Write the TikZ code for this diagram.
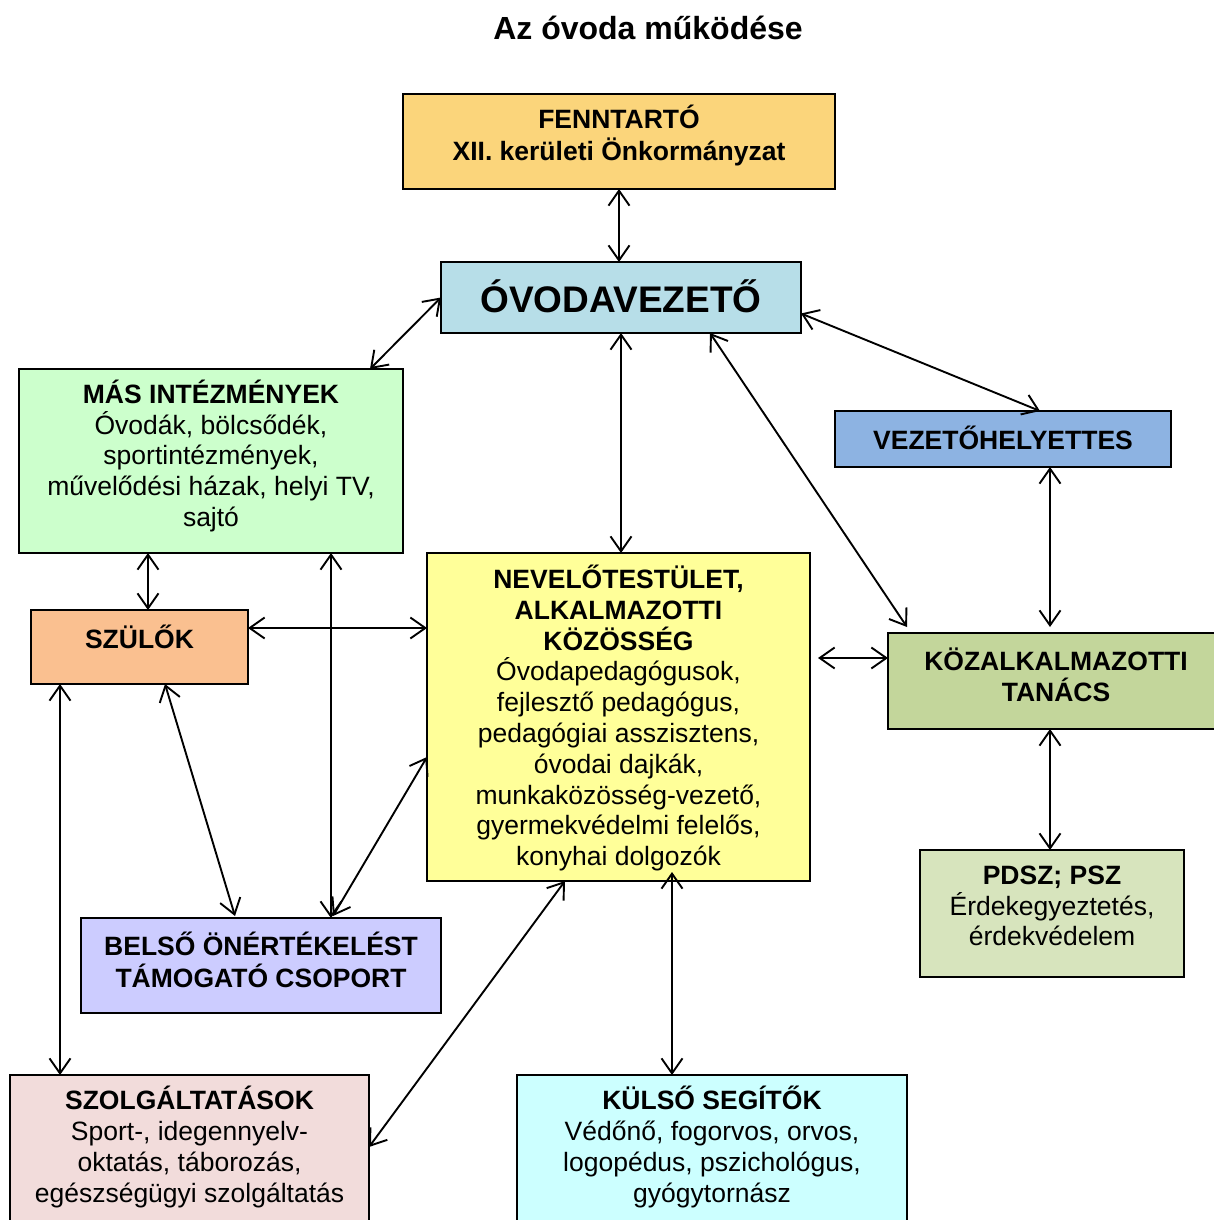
\documentclass[tikz,border=0pt]{standalone}
\usepackage{fontspec}
\setmainfont{Liberation Sans}
\usetikzlibrary{arrows.meta}
\definecolor{cFenn}{HTML}{FBD57B}
\definecolor{cOvez}{HTML}{B7DEE8}
\definecolor{cMas}{HTML}{CCFFCC}
\definecolor{cVez}{HTML}{8DB3E2}
\definecolor{cSzu}{HTML}{FAC090}
\definecolor{cNev}{HTML}{FFFF99}
\definecolor{cKoz}{HTML}{C3D69B}
\definecolor{cPdsz}{HTML}{D7E4BD}
\definecolor{cBel}{HTML}{CCCCFF}
\definecolor{cSzol}{HTML}{F2DCDB}
\definecolor{cKul}{HTML}{CCFFFF}
\tikzset{
  box/.style={draw=black, line width=1.8pt, inner sep=0pt, outer sep=0pt, rectangle},
  txt/.style={align=center, inner sep=0pt, font=\fontsize{26.5}{30.8}\selectfont},
  link/.style={line width=1.9pt, {Straight Barb[length=15pt,width=21pt]}-{Straight Barb[length=15pt,width=21pt]}},
}
\begin{document}
\begin{tikzpicture}[x=1pt,y=-1pt]
\useasboundingbox (0,0) rectangle (1214,1220);
\clip (0,0) rectangle (1214,1220);
\fill[white] (0,0) rectangle (1214,1220);

\node[txt, font=\fontsize{32}{36}\selectfont\bfseries] (title) at (648,28) {Az óvoda működése};

% boxes
\node[box, fill=cFenn, minimum width=432pt, minimum height=95pt] (fenn) at (619,141.5) {};
\node[box, fill=cOvez, minimum width=360pt, minimum height=71pt] (ovez) at (621,297.5) {};
\node[box, fill=cMas, minimum width=384pt, minimum height=184pt] (mas) at (211,461) {};
\node[box, fill=cVez, minimum width=336pt, minimum height=56pt] (vez) at (1003,439) {};
\node[box, fill=cSzu, minimum width=217pt, minimum height=74pt] (szu) at (139.5,647) {};
\node[box, fill=cNev, minimum width=383pt, minimum height=328pt] (nev) at (618.5,717) {};
\node[box, fill=cKoz, minimum width=336pt, minimum height=96pt] (koz) at (1056,681) {};
\node[box, fill=cPdsz, minimum width=264pt, minimum height=127pt] (pdsz) at (1052,913.5) {};
\node[box, fill=cBel, minimum width=360pt, minimum height=95pt] (bel) at (261,965.5) {};
\node[box, fill=cSzol, minimum width=359pt, minimum height=153pt] (szol) at (189.5,1151.5) {};
\node[box, fill=cKul, minimum width=390pt, minimum height=153pt] (kul) at (712,1151.5) {};

% texts
\node[txt, font=\fontsize{26.5}{32}\selectfont\bfseries] (fennT) at (619,136) {FENNTARTÓ\\XII. kerületi Önkormányzat};
\node[txt, font=\fontsize{37}{40}\selectfont\bfseries] (ovezT) at (621,296) {ÓVODAVEZETŐ};
\node[txt] (masT) at (211,456) {\textbf{MÁS INTÉZMÉNYEK}\\Óvodák, bölcsődék,\\sportintézmények,\\művelődési házak, helyi TV,\\sajtó};
\node[txt, font=\fontsize{26.5}{30.8}\selectfont\bfseries] (vezT) at (1003,438) {VEZETŐHELYETTES};
\node[txt, font=\fontsize{26.5}{30.8}\selectfont\bfseries] (szuT) at (139.5,637) {SZÜLŐK};
\node[txt] (nevT) at (618.5,718) {\textbf{NEVELŐTESTÜLET,}\\\textbf{ALKALMAZOTTI}\\\textbf{KÖZÖSSÉG}\\Óvodapedagógusok,\\fejlesztő pedagógus,\\pedagógiai asszisztens,\\óvodai dajkák,\\munkaközösség-vezető,\\gyermekvédelmi felelős,\\konyhai dolgozók};
\node[txt, font=\fontsize{26.5}{30.8}\selectfont\bfseries] (kozT) at (1056,675) {KÖZALKALMAZOTTI\\TANÁCS};
\node[txt] (pdszT) at (1052,906) {\textbf{PDSZ; PSZ}\\Érdekegyeztetés,\\érdekvédelem};
\node[txt, font=\fontsize{26.5}{31.5}\selectfont\bfseries] (belT) at (261,960) {BELSŐ ÖNÉRTÉKELÉST\\TÁMOGATÓ CSOPORT};
\node[txt] (szolT) at (189.5,1147) {\textbf{SZOLGÁLTATÁSOK}\\Sport-, idegennyelv-\\oktatás, táborozás,\\egészségügyi szolgáltatás};
\node[txt] (kulT) at (712,1147) {\textbf{KÜLSŐ SEGÍTŐK}\\Védőnő, fogorvos, orvos,\\logopédus, pszichológus,\\gyógytornász};

% connectors
\draw[link] (fenn.south) -- (fenn.south |- ovez.north);
\draw[link] (ovez.west) -- ([xshift=-33pt]mas.north east);
\draw[link] (ovez.south) -- (ovez.south |- nev.north);
\draw[link] ([yshift=-16pt]ovez.east) -- ([xshift=37pt]vez.north);
\draw[link] ([xshift=89pt]ovez.south) -- ([xshift=19pt,yshift=6pt]koz.north west);
\draw[link] ([xshift=47pt]vez.south) -- ([xshift=-6pt,yshift=6pt]koz.north);
\draw[link] ([xshift=-63pt]mas.south) -- ([xshift=8.5pt]szu.north);
\draw[link] ([xshift=120pt]mas.south) -- ([xshift=70pt]bel.north);
\draw[link] ([yshift=19pt]szu.east) -- ([yshift=89pt]nev.west);
\draw[link] ([xshift=8pt,yshift=59pt]nev.east) -- ([yshift=23pt]koz.west);
\draw[link] ([xshift=-79.5pt]szu.south) -- ([xshift=-129.5pt]szol.north);
\draw[link] ([xshift=25.5pt]szu.south) -- ([xshift=-26pt,yshift=2pt]bel.north);
\draw[link] ([yshift=-40pt]nev.west) -- ([xshift=72pt,yshift=2pt]bel.north);
\draw[link] ([xshift=-53.5pt]nev.south) -- ([yshift=4.5pt]szol.east);
\draw[link] ([xshift=53.5pt,yshift=9pt]nev.south) -- ([xshift=-40pt]kul.north);
\draw[link] ([xshift=-6pt]koz.south) -- ([xshift=-2pt]pdsz.north);
\end{tikzpicture}
\end{document}
